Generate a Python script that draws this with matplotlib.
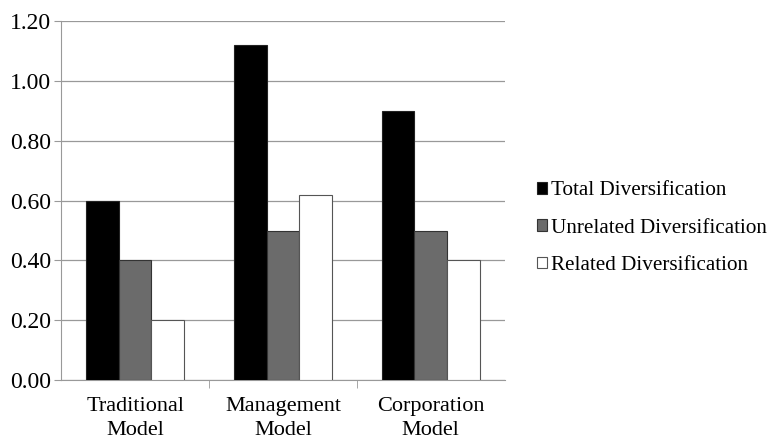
import matplotlib.pyplot as plt
import numpy as np

categories = ['Traditional\nModel', 'Management\nModel', 'Corporation\nModel']
total = [0.60, 1.12, 0.90]
unrelated = [0.40, 0.50, 0.50]
related = [0.20, 0.62, 0.40]
series_names = ['Total Diversification', 'Unrelated Diversification', 'Related Diversification']

plt.rcParams['font.family'] = 'Liberation Serif'

fig = plt.figure(figsize=(7.74, 4.37), dpi=100)
ax = fig.add_axes([0.079, 0.130, 0.573, 0.822])

x = np.arange(len(categories))
w = 0.22
ax.bar(x - w, total, w, color='black', edgecolor='#222222', linewidth=0.8, label=series_names[0], zorder=3)
ax.bar(x, unrelated, w, color='#6b6b6b', edgecolor='#333333', linewidth=0.8, label=series_names[1], zorder=3)
ax.bar(x + w, related, w, color='white', edgecolor='#555555', linewidth=0.8, label=series_names[2], zorder=3)

ax.set_xlim(-0.5, 2.5)
ax.set_ylim(0, 1.2)
ax.set_yticks(np.arange(0, 1.21, 0.2))
ax.set_yticklabels([f'{v:.2f}' for v in np.arange(0, 1.21, 0.2)], fontsize=17)
ax.yaxis.grid(True, color='#999999', linewidth=0.9, zorder=0)
ax.set_axisbelow(True)

ax.set_xticks(x)
ax.set_xticklabels(categories, fontsize=16, linespacing=1.35)
ax.tick_params(axis='x', length=0, pad=12)
ax.set_xticks([0.5, 1.5], minor=True)
ax.tick_params(axis='x', which='minor', length=6, color='#999999')
ax.tick_params(axis='y', length=5, color='#999999', pad=2)

for s in ['top', 'right']:
    ax.spines[s].set_visible(False)
ax.spines['left'].set_color('#999999')
ax.spines['bottom'].set_color('#999999')

fig.legend(loc='center left', bbox_to_anchor=(0.683, 0.478), frameon=False,
           fontsize=15.2, handlelength=0.45, handleheight=0.45, handletextpad=0.2,
           labelspacing=0.86, borderaxespad=0)

fig.savefig('out.png', dpi=100)
